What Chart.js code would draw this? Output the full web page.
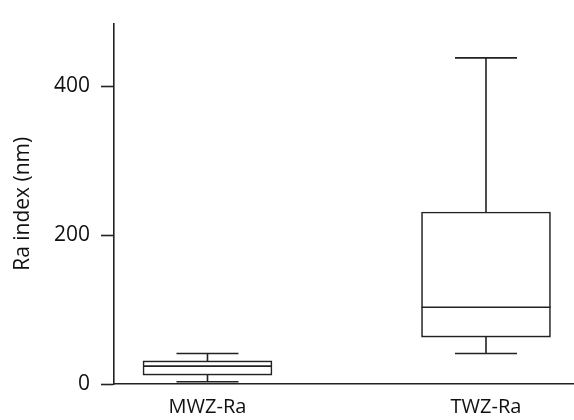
<!DOCTYPE html>
<html>
<head>
<meta charset="utf-8">
<script src="https://cdn.jsdelivr.net/npm/chart.js@4/dist/chart.umd.min.js"></script>
<style>
  html, body { margin: 0; padding: 0; background: #fff; }
  #wrap { width: 574px; height: 420px; }
</style>
</head>
<body>
<div id="wrap"><canvas id="boxChart"></canvas></div>
<script>
'use strict';

// Data
let categories = ['MWZ-Ra', 'TWZ-Ra'];
let positions = [1, 2];
let mins = [3, 41];
let q1s = [12, 63];
let medians = [24, 103];
let q3s = [31, 231];
let maxs = [41, 438];
let yTicks = [0, 200, 400];

let lineColor = '#222';

// floating bars make the boxes
let boxData = [];
for (let i = 0; i < categories.length; i++) {
  boxData.push({ x: positions[i], y: [q1s[i], q3s[i]] });
}

// whiskers, caps and medians, drawn through the scales
let whiskerPlugin = {
  id: 'whiskers',
  afterDatasetsDraw(chart) {
    let ctx = chart.ctx;
    let xs = chart.scales.x;
    let ys = chart.scales.y;
    ctx.save();
    ctx.strokeStyle = lineColor;
    ctx.lineWidth = 1.6;
    for (let i = 0; i < categories.length; i++) {
      let cx = xs.getPixelForValue(positions[i]);
      let halfBox = 64.5;
      let halfCap = 31;
      ctx.beginPath();
      // upper whisker
      ctx.moveTo(cx, ys.getPixelForValue(q3s[i]));
      ctx.lineTo(cx, ys.getPixelForValue(maxs[i]));
      ctx.moveTo(cx - halfCap, ys.getPixelForValue(maxs[i]));
      ctx.lineTo(cx + halfCap, ys.getPixelForValue(maxs[i]));
      // lower whisker
      ctx.moveTo(cx, ys.getPixelForValue(q1s[i]));
      ctx.lineTo(cx, ys.getPixelForValue(mins[i]));
      ctx.moveTo(cx - halfCap, ys.getPixelForValue(mins[i]));
      ctx.lineTo(cx + halfCap, ys.getPixelForValue(mins[i]));
      // median
      ctx.moveTo(cx - halfBox, ys.getPixelForValue(medians[i]));
      ctx.lineTo(cx + halfBox, ys.getPixelForValue(medians[i]));
      ctx.stroke();
    }
    ctx.restore();
  }
};

let ctx = document.getElementById('boxChart').getContext('2d');
Chart.defaults.font.family = '"Open Sans", sans-serif';
Chart.defaults.color = '#111';

new Chart(ctx, {
  type: 'bar',
  data: {
    datasets: [{
      data: boxData,
      backgroundColor: '#fff',
      borderColor: lineColor,
      borderWidth: 1.6,
      borderSkipped: false,
      barThickness: 129
    }]
  },
  options: {
    responsive: true,
    maintainAspectRatio: false,
    animation: false,
    layout: { padding: { top: 22, right: 0, left: 0, bottom: 0 } },
    plugins: {
      legend: { display: false },
      tooltip: { enabled: false }
    },
    scales: {
      x: {
        type: 'linear',
        offset: false,
        min: 0.6643,
        max: 2.316,
        afterBuildTicks(scale) {
          scale.ticks = positions.map(function (p) { return { value: p }; });
        },
        afterFit(scale) { scale.height = 36; },
        ticks: {
          padding: 11,
          maxRotation: 0,
          font: { size: 20 },
          callback: function (value) {
            let idx = positions.indexOf(value);
            return idx === -1 ? '' : categories[idx];
          }
        },
        grid: { display: true, offset: false, drawOnChartArea: false, drawTicks: false },
        border: { display: true, color: lineColor, width: 1.6 }
      },
      y: {
        min: 0,
        max: 484,
        afterBuildTicks(scale) {
          scale.ticks = yTicks.map(function (v) { return { value: v }; });
        },
        afterFit(scale) { scale.width = 114; },
        ticks: {
          padding: 11,
          font: { size: 21 }
        },
        grid: {
          display: true,
          drawOnChartArea: false,
          drawTicks: true,
          tickLength: 13,
          tickWidth: 1.6,
          tickColor: lineColor
        },
        border: { display: true, color: lineColor, width: 1.6 },
        title: {
          display: true,
          text: 'Ra index (nm)',
          font: { size: 21 },
          padding: { top: 10, bottom: 4 }
        }
      }
    }
  },
  plugins: [whiskerPlugin]
});
</script>
</body>
</html>
